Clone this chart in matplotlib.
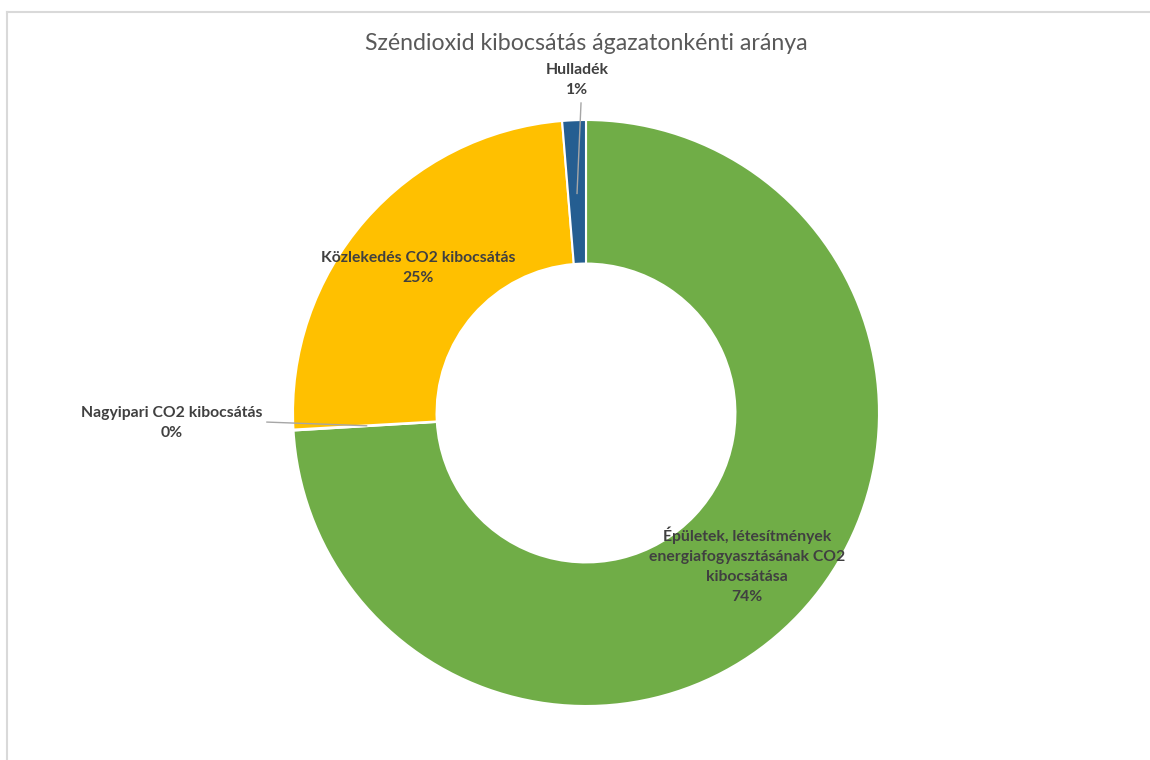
import numpy as np
import matplotlib.pyplot as plt
from matplotlib.lines import Line2D

plt.rcParams['font.family'] = ['Lato', 'DejaVu Sans']

# Data (clockwise from 12 o'clock)
sectors = ['Épületek, létesítmények\nenergiafogyasztásának CO2\nkibocsátása',
           'Nagyipari CO2 kibocsátás',
           'Közlekedés CO2 kibocsátás',
           'Hulladék']
shares = [74.05, 0.05, 24.6, 1.3]
colors = ['#70AD47', '#A5A5A5', '#FFC000', '#255E91']

W, H = 1150, 760
fig = plt.figure(figsize=(W / 100, H / 100), dpi=100)

# Chart frame (light gray border, top and left visible)
fig.add_artist(Line2D([7 / W, 7 / W], [0, 1 - 12 / H], color='#D9D9D9', lw=1.5))
fig.add_artist(Line2D([7 / W, 1], [1 - 12 / H, 1 - 12 / H], color='#D9D9D9', lw=1.5))

cx, cy, r = 586, 413, 293
ax = fig.add_axes([(cx - r) / W, (H - cy - r) / H, 2 * r / W, 2 * r / H])
wedges, _ = ax.pie(shares, colors=colors, startangle=90, counterclock=False,
                   wedgeprops=dict(width=0.49, edgecolor='white', linewidth=1.5))
ax.set_xlim(-1, 1)
ax.set_ylim(-1, 1)
ax.set_aspect('equal')
ax.axis('off')

fig.text(0.5096, 1 - 43 / H, 'Széndioxid kibocsátás ágazatonkénti aránya',
         ha='center', va='center', fontsize=16.7, color='#595959')

lab_kw = dict(ha='center', va='center', fontsize=11.3, fontweight='bold',
              color='#404040', linespacing=1.55)

def mid_point(w, rad):
    a = np.deg2rad((w.theta1 + w.theta2) / 2)
    return rad * np.cos(a), rad * np.sin(a)

# label positions in pie coordinates
label_pos = [(0.549, -0.519), (-1.413, -0.034), (-0.573, 0.495), (-0.031, 1.137)]
leaders = [None, (-1.089, -0.031), None, (-0.017, 1.058)]

for w, name, val, pos, lead in zip(wedges, sectors, shares, label_pos, leaders):
    ax.text(pos[0], pos[1], f'{name}\n{val:.0f}%', **lab_kw)
    if lead is not None:
        mx, my = mid_point(w, 0.75)
        ax.plot([lead[0], mx], [lead[1], my], color='#A6A6A6', lw=1, clip_on=False)

fig.savefig('out.png', dpi=100, facecolor='white')
